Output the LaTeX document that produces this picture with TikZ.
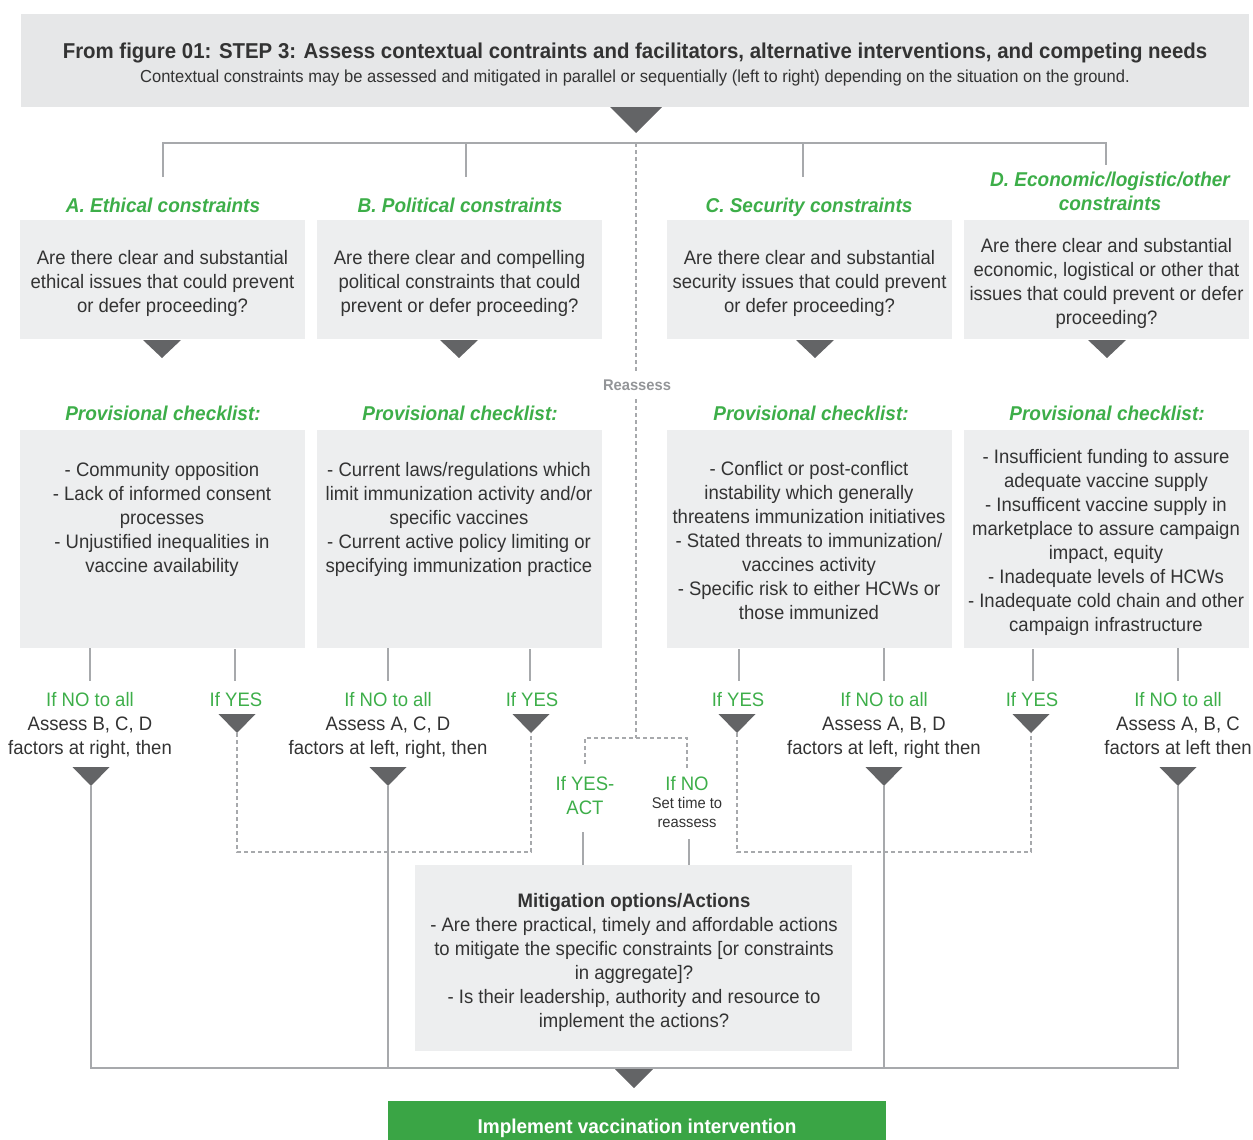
\documentclass[tikz,border=0pt]{standalone}
\usepackage{fontspec}
\setmainfont{Liberation Sans}[FakeStretch=0.95]
\usepackage{tikz}
\usetikzlibrary{positioning}

\definecolor{hdrgray}{HTML}{E6E7E8}
\definecolor{boxgray}{HTML}{EDEEEF}
\definecolor{trigray}{HTML}{636466}
\definecolor{linegray}{HTML}{A7A9AC}
\definecolor{grn}{HTML}{3DAE49}
\definecolor{txt}{HTML}{333333}
\definecolor{reagray}{HTML}{939598}

\newcommand{\bodyfont}{\fontsize{19.5}{24}\selectfont}
\newcommand{\smallfont}{\fontsize{15.5}{19}\selectfont}
\newcommand{\coltitlefont}{\fontsize{20}{24}\selectfont\bfseries\itshape}
% downward triangle: x, y (top), half width, height, name of tip
\newcommand{\downtri}[5]{%
  \fill[trigray] ({#1-#3},#2) -- ({#1+#3},#2) -- (#1,{#2+#4}) -- cycle;
  \coordinate (#5) at (#1,{#2+#4});}

\begin{document}
\begin{tikzpicture}[x=1pt, y=-1pt,
    qbox/.style={fill=boxgray, inner sep=0pt, minimum width=285pt},
    lbl/.style={inner sep=0pt, align=center, text=txt, font=\bodyfont},
    grnlbl/.style={lbl, text=grn},
    coltitle/.style={inner sep=0pt, align=center, text=grn, font=\coltitlefont},
    link/.style={draw=linegray, line width=1.3pt},
    dlink/.style={draw=linegray, line width=1.2pt, dash pattern=on 4pt off 3pt}]
    \useasboundingbox (0,0) rectangle (1253,1140);

    % Header
    \node[fill=hdrgray, inner sep=0pt, minimum width=1228pt, minimum height=93pt] (head) at (635,60.5) {};
    \node[anchor=base, inner sep=0pt, text=txt, font=\fontsize{21.5}{24}\selectfont\bfseries] (htitle) at (635,59)
        {From figure 01: STEP 3: Assess contextual contraints and facilitators, alternative interventions, and competing needs};
    \node[anchor=base, inner sep=0pt, text=txt, font=\fontsize{17.4}{20}\selectfont] (hsub) at (635,82)
        {Contextual constraints may be assessed and mitigated in parallel or sequentially (left to right) depending on the situation on the ground.};
    \downtri{636}{107}{26}{26}{hubtip}
    \coordinate (hub) at (636,143);

    % Column titles
    \node[coltitle, anchor=base] (titA) at (163,212) {A.~Ethical constraints};
    \node[coltitle, anchor=base] (titB) at (460,212) {B.~Political constraints};
    \node[coltitle, anchor=base] (titC) at (809,212) {C.~Security constraints};
    \node[coltitle, anchor=north] (titD) at (1110,172) {D.~Economic/logistic/other\\constraints};

    \draw[link] (163,177) |- (hub) -| (1106,165);
    \draw[link] (466,143) -- (466,177);
    \draw[link] (803,143) -- (803,177);

    % Questions
    \node[qbox, minimum height=119pt] (qA) at (162.5,279.5) {};
    \node[qbox, minimum height=119pt] (qB) at (459.5,279.5) {};
    \node[qbox, minimum height=119pt] (qC) at (809.5,279.5) {};
    \node[qbox, minimum height=119pt] (qD) at (1106.5,279.5) {};
    \node[lbl] (tA) at (162.5,283.5)
        {Are there clear and substantial\\ethical issues that could prevent\\or defer proceeding?};
    \node[lbl] (tB) at (459.5,283.5)
        {Are there clear and compelling\\political constraints that could\\prevent or defer proceeding?};
    \node[lbl] (tC) at (809.5,283.5)
        {Are there clear and substantial\\security issues that could prevent\\or defer proceeding?};
    \node[lbl] (tD) at (1106.5,283.5)
        {Are there clear and substantial\\economic, logistical or other that\\issues that could prevent or defer\\proceeding?};
    \downtri{162}{340}{19}{18}{tqA}
    \downtri{459}{340}{19}{18}{tqB}
    \downtri{815}{340}{19}{18}{tqC}
    \downtri{1107}{340}{19}{18}{tqD}

    % Reassess line
    \node[inner sep=0pt, anchor=base, text=reagray, font=\fontsize{15.5}{18}\selectfont\bfseries] (reas) at (637,390) {Reassess};
    \draw[dlink] (hub) -- (636,372);
    \coordinate (split) at (636,738);
    \draw[dlink] (636,399) -- (split);

    % Checklists
    \node[coltitle, anchor=base] (pcA) at (163,420) {Provisional checklist:};
    \node[coltitle, anchor=base] (pcB) at (460,420) {Provisional checklist:};
    \node[coltitle, anchor=base] (pcC) at (811,420) {Provisional checklist:};
    \node[coltitle, anchor=base] (pcD) at (1107,420) {Provisional checklist:};

    \node[qbox, minimum height=218pt] (cA) at (162.5,539) {};
    \node[qbox, minimum height=218pt] (cB) at (459.5,539) {};
    \node[qbox, minimum height=218pt] (cC) at (809.5,539) {};
    \node[qbox, minimum height=218pt] (cD) at (1106.5,539) {};
    \node[lbl, anchor=north] (lA) at (162,462)
        {- Community opposition\\- Lack of informed consent\\processes\\- Unjustified inequalities in\\vaccine availability};
    \node[lbl, anchor=north] (lB) at (459,462)
        {- Current laws/regulations which\\limit immunization activity and/or\\specific vaccines\\- Current active policy limiting or\\specifying immunization practice};
    \node[lbl, anchor=north] (lC) at (809,461)
        {- Conflict or post-conflict\\instability which generally\\threatens immunization initiatives\\- Stated threats to immunization/\\vaccines activity\\- Specific risk to either HCWs or\\those immunized};
    \node[lbl, anchor=north] (lD) at (1106,449)
        {- Insufficient funding to assure\\adequate vaccine supply\\- Insufficent vaccine supply in\\marketplace to assure campaign\\impact, equity\\- Inadequate levels of HCWs\\- Inadequate cold chain and other\\campaign infrastructure};

    % Answers under the checklists
    \node[lbl, anchor=north] (noA) at (90,692) {\textcolor{grn}{If NO to all}\\Assess B, C, D\\factors at right, then};
    \node[lbl, anchor=north] (noB) at (388,692) {\textcolor{grn}{If NO to all}\\Assess A, C, D\\factors at left, right, then};
    \node[lbl, anchor=north] (noC) at (884,692) {\textcolor{grn}{If NO to all}\\Assess A, B, D\\factors at left, right then};
    \node[lbl, anchor=north] (noD) at (1178,692) {\textcolor{grn}{If NO to all}\\Assess A, B, C\\factors at left then};
    \node[grnlbl, anchor=base] (yesA) at (236,706) {If YES};
    \node[grnlbl, anchor=base] (yesB) at (532,706) {If YES};
    \node[grnlbl, anchor=base] (yesC) at (738,706) {If YES};
    \node[grnlbl, anchor=base] (yesD) at (1032,706) {If YES};

    \draw[link] (cA.south -| noA) -- (noA.north |- 0,681);
    \draw[link] (235,649) -- (235,681);
    \draw[link] (cB.south -| noB) -- (noB.north |- 0,681);
    \draw[link] (530,649) -- (530,681);
    \draw[link] (739,649) -- (739,681);
    \draw[link] (cC.south -| noC) -- (noC.north |- 0,681);
    \draw[link] (1033,649) -- (1033,681);
    \draw[link] (cD.south -| noD) -- (noD.north |- 0,681);

    \downtri{237}{714}{18.5}{19}{tyA}
    \downtri{531}{714}{18.5}{19}{tyB}
    \downtri{737}{714}{18.5}{19}{tyC}
    \downtri{1031}{714}{18.5}{19}{tyD}
    \downtri{91}{767}{18.5}{19}{tnA}
    \downtri{388}{767}{18.5}{19}{tnB}
    \downtri{884}{767}{18.5}{19}{tnC}
    \downtri{1178}{767}{18.5}{19}{tnD}

    % If YES loops
    \draw[dlink] (tyA) -- (237,852) -- (531,852) -- (tyB);
    \draw[dlink] (tyC) -- (737,852) -- (1031,852) -- (tyD);

    % Mitigation
    \node[grnlbl, anchor=north] (act) at (585,776) {If YES-\\ACT};
    \node[grnlbl, anchor=north] (wait) at (687,776) {If NO\\[-6pt]{\smallfont\color{txt} Set time to}\\[-5pt]{\smallfont\color{txt} reassess}};
    \draw[dlink] (585,764) |- (split) -| (687,768);
    \node[fill=boxgray, inner sep=0pt, minimum width=437pt, minimum height=186pt] (mit) at (633.5,958) {};
    \node[lbl] (mittxt) at (634,962)
        {\textbf{Mitigation options/Actions}\\- Are there practical, timely and affordable actions\\to mitigate the specific constraints [or constraints\\in aggregate]?\\- Is their leadership, authority and resource to\\implement the actions?};
    \draw[link] (583,832) -- (mit.north -| 583,0);
    \draw[link] (689,839) -- (mit.north -| 689,0);

    % Final step
    \draw[link] (tnA) -- (91,1068) -- (1178,1068) -- (tnD);
    \draw[link] (tnB) -- (388,1068);
    \draw[link] (tnC) -- (884,1068);
    \downtri{634}{1069}{19}{19}{tfin}
    \node[fill=grn!95!black, inner sep=0pt, minimum width=498pt, minimum height=50pt, anchor=north] (impl) at (637,1101) {};
    \node[anchor=base, inner sep=0pt, text=white, font=\fontsize{20}{24}\selectfont\bfseries] (impltxt) at (637,1133)
        {Implement vaccination intervention};
\end{tikzpicture}
\end{document}
